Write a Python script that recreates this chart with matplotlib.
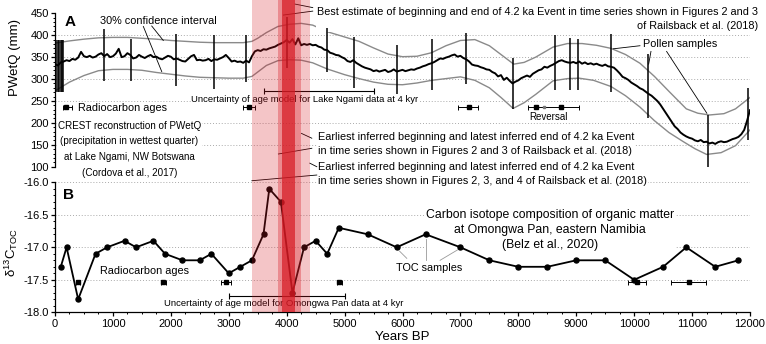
import numpy as np
import matplotlib
matplotlib.use("Agg")
import matplotlib.pyplot as plt
from matplotlib import font_manager
from matplotlib.patches import Rectangle
from matplotlib.transforms import blended_transform_factory
from matplotlib.ticker import MultipleLocator, FormatStrFormatter

plt.rcParams['font.family'] = ['Liberation Sans', 'DejaVu Sans']
plt.rcParams['mathtext.fontset'] = 'custom'
plt.rcParams['mathtext.rm'] = 'Liberation Sans'
plt.rcParams['mathtext.it'] = 'Liberation Sans:italic'
plt.rcParams['axes.unicode_minus'] = False


def has_font(name):
    try:
        font_manager.findfont(font_manager.FontProperties(family=name), fallback_to_default=False)
        return True
    except Exception:
        return False


NARROW = has_font('Liberation Sans Narrow')

# ---------------- Panel A data (Lake Ngami PWetQ, mm) ----------------
pwetq_ages = list(range(0, 12001, 50))
pwetq_values = [
    334, 331, 338, 340, 343, 341, 346, 344, 349, 362, 352, 350, 353, 349, 351, 356, 359, 352, 357, 350,
    352, 358, 369, 350, 352, 359, 355, 347, 349, 355, 351, 348, 352, 355, 350, 351, 347, 345, 349, 353,
    351, 345, 347, 344, 341, 340, 346, 352, 355, 343, 344, 342, 343, 346, 341, 345, 344, 347, 350, 355,
    348, 340, 342, 339, 340, 337, 342, 338, 352, 363, 366, 364, 368, 367, 370, 372, 374, 378, 381, 384,
    389, 383, 391, 379, 393, 377, 380, 378, 380, 377, 378, 374, 372, 367, 366, 360, 358, 355, 354, 350,
    347, 341, 339, 343, 337, 333, 329, 326, 324, 322, 318, 320, 317, 319, 321, 316, 318, 322, 317, 319,
    321, 318, 320, 322, 321, 324, 326, 329, 331, 334, 336, 339, 343, 347, 346, 349, 351, 354, 356, 351,
    353, 348, 345, 340, 333, 331, 330, 327, 325, 322, 321, 316, 313, 306, 309, 298, 303, 296, 290, 294,
    297, 302, 305, 308, 305, 312, 316, 320, 322, 328, 326, 330, 333, 337, 341, 343, 340, 338, 337, 339,
    336, 340, 335, 338, 334, 336, 333, 335, 332, 330, 333, 329, 328, 326, 320, 313, 305, 302, 298, 292,
    288, 284, 279, 276, 271, 266, 262, 256, 250, 242, 232, 222, 212, 202, 192, 186, 178, 173, 169, 166,
    164, 160, 158, 161, 156, 157, 153, 155, 152, 156, 158, 156, 157, 160, 163, 165, 168, 174, 184, 205,
    229,
]

ci_upper_ages = [0, 250, 500, 750, 1000, 1250, 1500, 1750, 2000, 2250, 2500, 2750, 3000, 3250, 3400,
                 3500, 3650, 3850, 4050, 4250, 4450, 4700, 5000, 5250, 5500, 5750, 6000, 6250, 6500,
                 6750, 7000, 7250, 7500, 7700, 7920, 8100, 8300, 8600, 8850, 9100, 9350, 9600, 9850,
                 10100, 10350, 10600, 10900, 11100, 11300, 11550, 11750, 12000]
ci_upper_vals = [382, 387, 391, 394, 395, 395, 393, 391, 388, 386, 384, 383, 383, 383, 386,
                 393, 406, 420, 425, 427, 423, 408, 396, 386, 371, 357, 351, 352, 360,
                 376, 388, 390, 376, 356, 334, 338, 350, 373, 381, 381, 377, 370, 356,
                 336, 306, 272, 232, 222, 218, 221, 232, 258]

ci_lower_ages = [0, 250, 500, 750, 1000, 1250, 1500, 1750, 2000, 2250, 2500, 2750, 3000, 3250, 3400,
                 3500, 3650, 3850, 4050, 4250, 4450, 4700, 5000, 5250, 5500, 5750, 6000, 6250, 6500,
                 6750, 7000, 7250, 7500, 7700, 7910, 8100, 8300, 8600, 8850, 9050, 9300, 9600, 9850,
                 10100, 10350, 10600, 10850, 11050, 11250, 11500, 11750, 12000]
ci_lower_vals = [273, 293, 308, 319, 322, 322, 320, 315, 311, 307, 304, 303, 302, 302, 306,
                 316, 331, 342, 344, 343, 337, 323, 310, 301, 293, 288, 287, 291, 297,
                 301, 305, 297, 280, 258, 233, 246, 265, 296, 301, 302, 297, 283, 262,
                 236, 205, 178, 157, 141, 128, 132, 148, 184]

pollen_ages = [20, 45, 70, 95, 120, 145, 846, 1307, 2085, 2751, 3299, 4002, 4693, 5164, 5907,
               6511, 7093, 7902, 8641, 8895, 9038, 9603, 10247, 11283, 11974]
pollen_top = [389, 389, 389, 389, 389, 389, 414, 391, 403, 400, 400, 441, 416, 396, 377,
              391, 405, 348, 400, 393, 391, 402, 357, 218, 279]
pollen_bottom = [271, 271, 271, 271, 271, 271, 295, 295, 284, 278, 293, 325, 316, 279, 266,
                 275, 288, 232, 275, 275, 275, 271, 211, 100, 161]

rc_a_ages = [190, 3350, 7140]
rc_a_min = [145, 3250, 6960]
rc_a_max = [290, 3455, 7300]
rc_a_level = 236
reversal_ages = [8300, 8740]
reversal_range = [8175, 9040]
reversal_mid = 8435
age_unc_a = [3600, 5500]
age_unc_a_level = 273

# ---------------- Panel B data (Omongwa Pan d13C TOC) ----------------
toc_ages = [100, 200, 400, 700, 900, 1200, 1400, 1700, 1900, 2200, 2500, 2700, 3000, 3200, 3400,
            3600, 3700, 3900, 4100, 4300, 4500, 4700, 4900, 5400, 5900, 6400, 7000, 7500, 8000,
            8500, 9000, 9500, 10000, 10500, 10900, 11400, 11800]
toc_d13c = [-17.3, -17.0, -17.8, -17.1, -17.0, -16.9, -17.0, -16.9, -17.1, -17.2, -17.2, -17.1,
            -17.4, -17.3, -17.2, -16.8, -16.1, -16.3, -17.7, -17.0, -16.9, -17.1, -16.7, -16.8,
            -17.0, -16.8, -17.0, -17.2, -17.3, -17.3, -17.2, -17.2, -17.5, -17.3, -17.0, -17.3, -17.2]

rc_b_ages = [400, 1870, 2950, 4910, 10050, 10950]
rc_b_min = [370, 1830, 2860, 4870, 9900, 10640]
rc_b_max = [430, 1910, 3040, 4950, 10200, 11240]
rc_b_level = -17.53
age_unc_b = [3000, 5000]
age_unc_b_level = -17.75

# 4.2 ka event bands (years BP)
band_outer = (3400, 4400)
band_middle = (3850, 4250)
band_inner = (3920, 4150)

# ---------------- Figure ----------------
W, H = 766, 344
fig = plt.figure(figsize=(W / 100, H / 100), dpi=100)


def fx(px):
    return px / W


def fy(py):
    return 1 - py / H


axA = fig.add_axes([fx(55), fy(166.7), fx(750) - fx(55), fy(13.3) - fy(166.7)])
axB = fig.add_axes([fx(55), fy(312.3), fx(750) - fx(55), fy(182.3) - fy(312.3)])
axA.set_zorder(2)
axA.patch.set_visible(False)

grid_kw = dict(color='#aaaaaa', lw=0.7, ls=(0, (1, 2)), zorder=0)
txt_bg = dict(facecolor='white', edgecolor='none', pad=0.5)

# ---- Panel A
axA.set_xlim(0, 12000)
axA.set_ylim(100, 450)
for s in ['top', 'right', 'bottom']:
    axA.spines[s].set_visible(False)
axA.spines['left'].set_linewidth(0.9)
axA.set_xticks([])
axA.yaxis.set_major_locator(MultipleLocator(50))
axA.yaxis.set_minor_locator(MultipleLocator(10))
axA.tick_params(axis='y', which='major', length=3, width=0.9, labelsize=8, pad=1.5)
axA.tick_params(axis='y', which='minor', length=1.6, width=0.7)
for v in [150, 200, 250, 300, 350, 400]:
    axA.axhline(v, **grid_kw)

axA.plot(ci_upper_ages, ci_upper_vals, color='#8a8a8a', lw=1.0, zorder=2)
axA.plot(ci_lower_ages, ci_lower_vals, color='#8a8a8a', lw=1.0, zorder=2)
axA.plot(pwetq_ages, pwetq_values, color='black', lw=1.4, zorder=3)
axA.vlines(pollen_ages, pollen_bottom, pollen_top, color='black', lw=1.1, zorder=4)

axA.errorbar(rc_a_ages, [rc_a_level] * len(rc_a_ages),
             xerr=[np.subtract(rc_a_ages, rc_a_min), np.subtract(rc_a_max, rc_a_ages)],
             fmt='s', ms=3.2, color='black', elinewidth=0.7, capsize=1.8, capthick=0.7, zorder=5)
axA.errorbar([(reversal_range[0] + reversal_range[1]) / 2], [rc_a_level],
             xerr=[(reversal_range[1] - reversal_range[0]) / 2], fmt='none',
             ecolor='black', elinewidth=0.7, capsize=1.8, capthick=0.7, zorder=5)
axA.plot(reversal_ages, [rc_a_level] * 2, 's', ms=3.2, color='black', zorder=6)
axA.plot([reversal_mid], [rc_a_level], 's', ms=1.8, color='#777777', zorder=6)
axA.errorbar([(age_unc_a[0] + age_unc_a[1]) / 2], [age_unc_a_level],
             xerr=[(age_unc_a[1] - age_unc_a[0]) / 2], fmt='none', ecolor='black',
             elinewidth=0.8, capsize=2.2, capthick=0.8, zorder=5)

axA.text(259, 431, 'A', fontsize=11, fontweight='bold', ha='center', va='center')
axA.text(777, 433, '30% confidence interval', fontsize=7.8, ha='left', va='center')
axA.plot([1670, 1870], [421, 388], color='black', lw=0.6, zorder=5)
axA.plot([1525, 1843], [420, 317], color='black', lw=0.6, zorder=5)
axA.text(402, 235, 'Radiocarbon ages', fontsize=7.8, ha='left', va='center', bbox=txt_bg)
crest_txt = ('CREST reconstruction of PWetQ\n(precipitation in wettest quarter)\n'
             'at Lake Ngami, NW Botswana\n(Cordova et al., 2017)')
if NARROW:
    axA.text(1287, 140, crest_txt, family=['Liberation Sans Narrow', 'Liberation Sans'],
             fontsize=7.9, ha='center', va='center', multialignment='center',
             linespacing=1.55, bbox=txt_bg, clip_on=False)
else:
    axA.text(1287, 140, crest_txt, fontsize=7.1, ha='center', va='center',
             multialignment='center', linespacing=1.7, bbox=txt_bg, clip_on=False)
axA.text(4315, 254, 'Uncertainty of age model for Lake Ngami data at 4 kyr', fontsize=6.8,
         ha='center', va='center', bbox=txt_bg)
axA.text(12133, 437, 'Best estimate of beginning and end of 4.2 ka Event in time series shown in '
         'Figures 2 and 3\nof Railsback et al. (2018)', fontsize=7.8, ha='right', va='center',
         multialignment='right', linespacing=1.5, bbox=txt_bg, clip_on=False)
axA.plot([4145, 4450], [471, 463], color='black', lw=0.6, clip_on=False, zorder=5)
axA.plot([3943, 4450], [446, 455], color='black', lw=0.6, clip_on=False, zorder=5)
axA.text(10160, 381, 'Pollen samples', fontsize=7.8, ha='left', va='center', bbox=txt_bg)
axA.plot([10100, 9640], [376, 369], color='black', lw=0.6, zorder=5)
axA.plot([10290, 10250], [363, 334], color='black', lw=0.6, zorder=5)
axA.plot([10560, 11255], [363, 222], color='black', lw=0.6, zorder=5)
axA.text(8520, 214, 'Reversal', fontsize=7, ha='center', va='center')
axA.text(4542, 151.5, 'Earliest inferred beginning and latest inferred end of 4.2 ka Event\n'
         'in time series shown in Figures 2 and 3 of Railsback et al. (2018)', fontsize=7.8,
         ha='left', va='center', linespacing=1.45, bbox=txt_bg, clip_on=False)
axA.text(4542, 84, 'Earliest inferred beginning and latest inferred end of 4.2 ka Event\n'
         'in time series shown in Figures 2, 3, and 4 of Railsback et al. (2018)', fontsize=7.8,
         ha='left', va='center', linespacing=1.45, bbox=txt_bg, clip_on=False)
axA.plot([4255, 4434], [176, 165], color='black', lw=0.6, clip_on=False, zorder=5)
axA.plot([4434, 3857], [142, 129], color='black', lw=0.6, clip_on=False, zorder=5)
axA.plot([4400, 4520], [108, 100], color='black', lw=0.6, clip_on=False, zorder=5)
axA.plot([4520, 3400], [81, 68], color='black', lw=0.6, clip_on=False, zorder=5)

# ---- Panel B
axB.set_xlim(0, 12000)
axB.set_ylim(-18, -16)
for s in ['top', 'right']:
    axB.spines[s].set_visible(False)
axB.spines['left'].set_linewidth(0.9)
axB.spines['bottom'].set_linewidth(0.9)
axB.xaxis.set_major_locator(MultipleLocator(1000))
axB.xaxis.set_minor_locator(MultipleLocator(250))
axB.yaxis.set_major_locator(MultipleLocator(0.5))
axB.yaxis.set_minor_locator(MultipleLocator(0.1))
axB.yaxis.set_major_formatter(FormatStrFormatter('%.1f'))
axB.tick_params(which='major', length=3, width=0.9, labelsize=8, pad=1.5)
axB.tick_params(which='minor', length=1.6, width=0.7)
for v in [-16.0, -16.5, -17.0, -17.5]:
    axB.axhline(v, **grid_kw)

axB.plot(toc_ages, toc_d13c, '-o', color='black', lw=1.3, ms=3.6, zorder=3)
axB.errorbar(rc_b_ages, [rc_b_level] * len(rc_b_ages),
             xerr=[np.subtract(rc_b_ages, rc_b_min), np.subtract(rc_b_max, rc_b_ages)],
             fmt='s', ms=3.2, color='black', elinewidth=0.7, capsize=1.8, capthick=0.7, zorder=4)
axB.errorbar([(age_unc_b[0] + age_unc_b[1]) / 2], [age_unc_b_level],
             xerr=[(age_unc_b[1] - age_unc_b[0]) / 2], fmt='none', ecolor='black',
             elinewidth=0.8, capsize=2.2, capthick=0.8, zorder=4)

axB.text(230, -16.2, 'B', fontsize=11, fontweight='bold', ha='center', va='center')
axB.text(777, -17.36, 'Radiocarbon ages', fontsize=7.8, ha='left', va='center')
axB.text(3955, -17.86, 'Uncertainty of age model for Omongwa Pan data at 4 kyr', fontsize=6.8,
         ha='center', va='center')
axB.text(8549, -16.73, 'Carbon isotope composition of organic matter\nat Omongwa Pan, eastern Namibia\n'
         '(Belz et al., 2020)', fontsize=8.8, ha='center', va='center', multialignment='center',
         linespacing=1.33, bbox=txt_bg, zorder=1)
axB.text(6460, -17.32, 'TOC samples', fontsize=7.8, ha='center', va='center')
axB.plot([6074, 5950], [-17.17, -17.06], color='#999999', lw=0.6)
axB.plot([6402, 6402], [-17.2, -16.87], color='#999999', lw=0.6)
axB.plot([6649, 6950], [-17.2, -17.04], color='#999999', lw=0.6)

# ---- 4.2 ka event bands, overlaid across both panels
trans = blended_transform_factory(axB.transData, fig.transFigure)
ybot = fy(312.3)
for (a0, a1), alpha in zip([band_outer, band_middle, band_inner], [0.25, 0.333, 0.7]):
    fig.add_artist(Rectangle((a0, ybot), a1 - a0, 1 - ybot, transform=trans,
                             facecolor='#D71923', alpha=alpha, edgecolor='none', zorder=10))

# ---- axis labels
fig.text(fx(15), fy(58), 'PWetQ (mm)', rotation=90, ha='center', va='center', fontsize=9.5)
fig.text(fx(11), fy(252), r'$\mathrm{\delta^{13}C_{TOC}}$', rotation=90, ha='center',
         va='center', fontsize=9.5)
fig.text(fx(402), fy(336.5), 'Years BP', ha='center', va='center', fontsize=9.5)

fig.savefig('out.png', dpi=100)
